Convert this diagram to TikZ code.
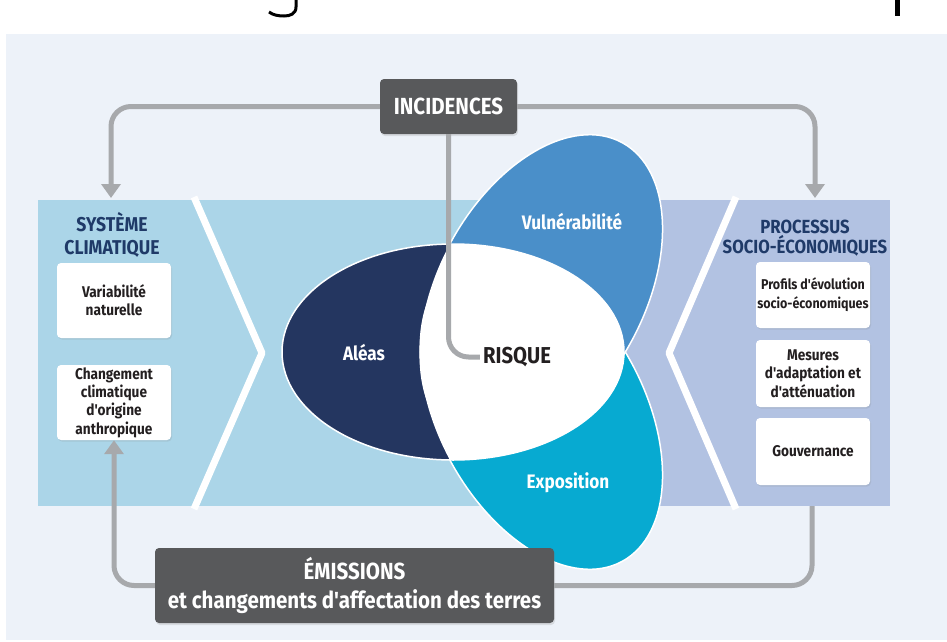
\documentclass[tikz,border=0pt]{standalone}
\usepackage{fontspec}
\setmainfont{Fira Sans}
\newfontfamily\cf[FakeStretch=0.88]{Fira Sans}
\usetikzlibrary{arrows.meta,shadows}
\definecolor{panelbg}{HTML}{EDF2F9}
\definecolor{bandblue}{HTML}{ABD5E8}
\definecolor{bandlav}{HTML}{B2C2E2}
\definecolor{hazcol}{HTML}{243660}
\definecolor{vulcol}{HTML}{4A8FC9}
\definecolor{expcol}{HTML}{07AAD1}
\definecolor{linegray}{HTML}{A7A9AC}
\definecolor{darkbox}{HTML}{58595B}
\definecolor{txtdark}{HTML}{231F20}
\definecolor{navytxt}{HTML}{1F3A68}
\begin{document}
\begin{tikzpicture}[x=1pt,y=-1pt,
  conn/.style={draw=linegray,line width=5pt,rounded corners=20pt},
  tip/.style={-{Triangle[width=19pt,length=14pt]}},
  wbox/.style={fill=white,rounded corners=4pt,inner sep=0pt,align=center,text=txtdark,
    font=\cf\bfseries\fontsize{15.5}{18.3}\selectfont,
    drop shadow={shadow xshift=1pt,shadow yshift=-1.5pt,opacity=0.18}},
  dbox/.style={fill=darkbox,rounded corners=4pt,inner sep=0pt,align=center,text=white,
    font=\cf\bfseries\fontsize{23.3}{29}\selectfont,
    drop shadow={shadow xshift=1pt,shadow yshift=-2pt,opacity=0.2}},
  ttl/.style={text=navytxt,align=center,inner sep=0pt},
  lbl/.style={text=white,font=\cf\bfseries\fontsize{19.5}{21}\selectfont,inner sep=0pt},
  chev/.style={draw=white,line width=7pt,line join=round}]
\useasboundingbox (0,0) rectangle (947,642);
\fill[white] (0,0) rectangle (947,642);
% cut-off title fragments
\draw[line width=3pt,black] (296,0) -- (296,7) .. controls (296,14) and (290,16) .. (284,16) .. controls (278,16) and (273,15) .. (269,12);
\fill[black] (895,0) rectangle (900,16);
% panel
\fill[panelbg] (6,34) rectangle (947,640);
% bands
\fill[bandblue] (38,200) rectangle (625,506);
\fill[bandlav] (625,200) rectangle (890,506);
\draw[chev] (194,197) -- (262,353) -- (194,509);
\draw[chev] (736,197) -- (669,353) -- (736,509);
% ellipses
\draw[fill=expcol,draw=white,line width=1.5pt,rotate around={-61.5:(541,412)}] (541,412) ellipse [x radius=170,y radius=103];
\draw[fill=vulcol,draw=white,line width=1.5pt,rotate around={61.5:(541,292)}] (541,292) ellipse [x radius=170,y radius=103];
\draw[fill=hazcol,draw=white,line width=1.5pt] (453,352) ellipse [x radius=171,y radius=108];
\begin{scope}
  \clip (453,352) ellipse [x radius=171,y radius=108];
  \fill[white,rotate around={-61.5:(541,412)}] (541,412) ellipse [x radius=170,y radius=103];
  \fill[white,rotate around={61.5:(541,292)}] (541,292) ellipse [x radius=170,y radius=103];
\end{scope}
\node[lbl] (alea) at (364,353) {Aléas};
\node[lbl] (vuln) at (572,222) {Vulnérabilité};
\node[lbl] (expo) at (568,483) {Exposition};
\node[inner sep=0pt,text=txtdark,font=\cf\bfseries\fontsize{23}{25}\selectfont] (risq) at (517,357) {RISQUE};
% boxes
\node[wbox,minimum width=114pt,minimum height=75pt] (var) at (114,300.5) {Variabilité\\naturelle};
\node[wbox,minimum width=114pt,minimum height=75pt] (chg) at (114,402.5) {Changement\\climatique\\d'origine\\anthropique};
\node[wbox,minimum width=114pt,minimum height=66pt,font=\cf\bfseries\fontsize{14.2}{19}\selectfont] (prof) at (813,295) {Profils d'évolution\\socio-économiques};
\node[wbox,minimum width=114pt,minimum height=67pt] (mes) at (813,373.5) {Mesures\\d'adaptation et\\d'atténuation};
\node[wbox,minimum width=114pt,minimum height=67pt] (gouv) at (813,451.5) {Gouvernance};
\node[ttl,font=\cf\bfseries\fontsize{20}{23}\selectfont] (sys) at (112,235) {SYSTÈME\\CLIMATIQUE};
\node[ttl,font=\cf\bfseries\fontsize{19}{19.5}\selectfont] (proc) at (805,238) {PROCESSUS\\SOCIO-ÉCONOMIQUES};
\coordinate (lt) at (111,198);
\coordinate (rt) at (815,198);
\coordinate (rb) at (812,506);
\node[dbox,minimum width=137pt,minimum height=55pt] (inc) at (448.5,106.5) {INCIDENCES};
\node[dbox,minimum width=399pt,minimum height=75pt] (emi) at (354.5,585.5) {ÉMISSIONS\\et changements d'affectation des terres};
% connectors
\draw[conn,tip] (inc.west) -| (lt);
\draw[conn,tip] (inc.east) -| (rt);
\draw[conn] (inc.south) |- ([xshift=-3pt]risq.west);
\draw[conn,tip] (emi.west) -| (chg.south);
\draw[conn] (emi.east) -| (rb);
\end{tikzpicture}
\end{document}
